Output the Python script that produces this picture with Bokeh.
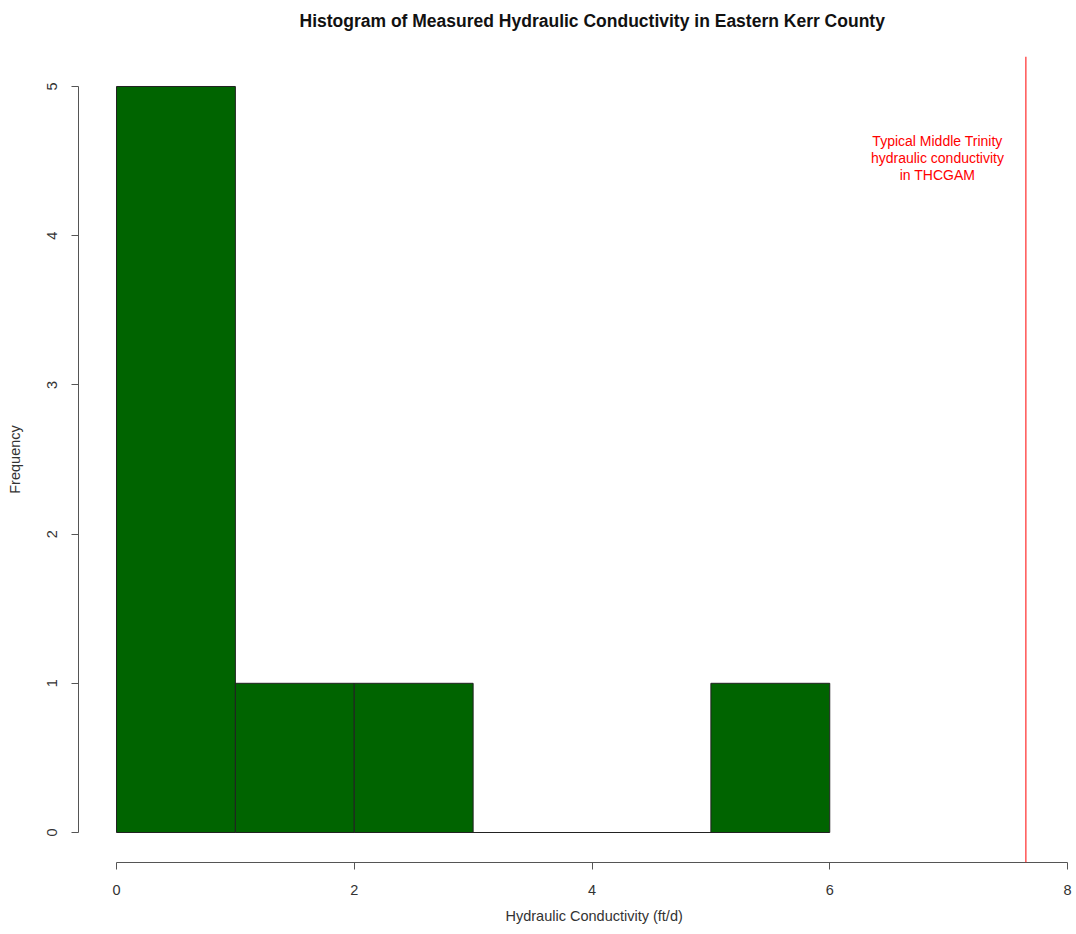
from bokeh.plotting import figure
from bokeh.models import FixedTicker, Span, Label, Range1d, Title
from bokeh.embed import file_html
from bokeh.resources import INLINE

# ---- data ----
bin_left = [0, 1, 2, 3, 4, 5]
bin_right = [1, 2, 3, 4, 5, 6]
counts = [5, 1, 1, 0, 0, 1]
typical_k = 7.65
x_ticks = [0, 2, 4, 6, 8]
y_ticks = [0, 1, 2, 3, 4, 5]
title_text = "Histogram of Measured Hydraulic Conductivity in Eastern Kerr County"
x_label = "Hydraulic Conductivity (ft/d)"
y_label = "Frequency"
note_lines = ["Typical Middle Trinity", "hydraulic conductivity", "in THCGAM"]

FONT = "Liberation Sans"

p = figure(width=1076, height=934, output_backend="svg", toolbar_location=None,
           title=None,
           x_range=Range1d(-0.3197, 8.0757), y_range=Range1d(-0.201, 5.201),
           min_border_left=78, min_border_right=0, min_border_top=56, min_border_bottom=72)
p.outline_line_color = None
p.xgrid.visible = False
p.ygrid.visible = False
p.background_fill_color = "white"

p.quad(left=bin_left, right=bin_right, bottom=0, top=counts,
       fill_color="#006400", line_color="#222222", line_width=1)

p.add_layout(Span(location=typical_k, dimension="height", line_color="#ff0000", line_width=1))

for ax, ticks, bounds in ((p.xaxis[0], x_ticks, (0, 8)), (p.yaxis[0], y_ticks, (0, 5))):
    ax.ticker = FixedTicker(ticks=ticks)
    ax.bounds = bounds
    ax.axis_line_color = "#555555"
    ax.major_tick_line_color = "#555555"
    ax.minor_tick_line_color = None
    ax.major_tick_out = 7
    ax.major_tick_in = 0
    ax.major_label_text_font = FONT
    ax.major_label_text_font_size = "14.5px"
    ax.major_label_text_color = "#333333"

p.xaxis[0].major_label_standoff = 15
p.yaxis[0].major_label_orientation = "vertical"
p.yaxis[0].major_label_standoff = 14
p.yaxis[0].axis_label = y_label
p.yaxis[0].axis_label_text_font = FONT
p.yaxis[0].axis_label_text_font_size = "14.5px"
p.yaxis[0].axis_label_text_font_style = "normal"
p.yaxis[0].axis_label_text_color = "#333333"
p.yaxis[0].axis_label_standoff = 22

# spacer between frame and main title (closest to the frame)
p.add_layout(Title(text=" ", text_font_size="2px", standoff=22), "above")
p.add_layout(Title(text=title_text, align="left", offset=221, standoff=0, vertical_align="bottom",
                   text_font=FONT, text_font_size="17.5px", text_font_style="bold",
                   text_color="#111111"), "above")
p.add_layout(Title(text=x_label, align="left", offset=427, standoff=16,
                   text_font=FONT, text_font_size="14.5px", text_font_style="normal",
                   text_color="#333333"), "below")

note_y = [4.638, 4.524, 4.410]
for t, yy in zip(note_lines, note_y):
    p.add_layout(Label(x=6.906, y=yy, text=t, text_align="center", text_baseline="middle",
                       text_font=FONT, text_font_size="14px", text_color="#ff0000"))

open("out.html", "w").write(file_html(p, INLINE))
